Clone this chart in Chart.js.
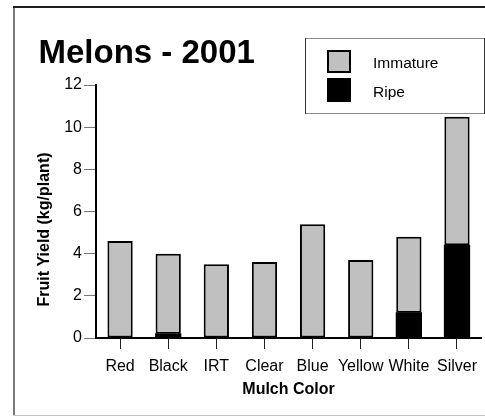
<!DOCTYPE html>
<html><head><meta charset="utf-8">
<script src="https://cdn.jsdelivr.net/npm/chart.js@4.4.1/dist/chart.umd.min.js"></script>
<style>html,body{margin:0;padding:0;background:#fff}#wrap{position:relative;width:485px;height:417px}</style>
</head><body><div id="wrap"><canvas id="c" width="485" height="417"></canvas></div>
<script>
const chartTitle = 'Melons - 2001';
const categories = ['Red', 'Black', 'IRT', 'Clear', 'Blue', 'Yellow', 'White', 'Silver'];
const ripe = [0, 0.2, 0, 0, 0, 0, 1.2, 4.4];
const immature = [4.6, 3.8, 3.5, 3.6, 5.4, 3.7, 3.6, 6.1];
const yTicks = [0, 2, 4, 6, 8, 10, 12];
const seriesNames = ['Ripe', 'Immature'];
const xTitle = 'Mulch Color';
const yTitle = 'Fruit Yield (kg/plant)';

const FONT = '"Liberation Sans", Arial, Helvetica, sans-serif';

const decor = {
  id: 'decor',
  beforeDraw(chart) {
    const ctx = chart.ctx;
    ctx.save();
    ctx.fillStyle = '#fff';
    ctx.fillRect(0, 0, chart.width, chart.height);
    ctx.fillStyle = '#7a7a7a';
    ctx.fillRect(13, 7, 2, 409);
    ctx.fillStyle = '#1e1e1e';
    ctx.fillRect(13, 6, 472, 2);
    ctx.fillStyle = '#c4c4c4';
    ctx.fillRect(13, 415, 472, 1);
    ctx.restore();
  },
  afterDraw(chart) {
    const ctx = chart.ctx;
    ctx.save();
    ctx.fillStyle = '#000';
    ctx.font = 'bold 33px ' + FONT;
    ctx.textAlign = 'left';
    ctx.textBaseline = 'alphabetic';
    ctx.fillText(chartTitle, 38.5, 63);

    ctx.save();
    ctx.translate(45, 229.5);
    ctx.rotate(-Math.PI / 2);
    ctx.font = 'bold 16px ' + FONT;
    ctx.textAlign = 'center';
    ctx.textBaseline = 'middle';
    ctx.fillText(yTitle, 0, 0);
    ctx.restore();

    // legend box
    ctx.fillStyle = '#fff';
    ctx.fillRect(305, 39, 180, 74);
    ctx.fillStyle = '#8a8a8a';
    ctx.fillRect(305, 38, 180, 1);
    ctx.fillRect(305, 113, 180, 1);
    ctx.fillStyle = '#333';
    ctx.fillRect(305, 38, 1, 76);
    ctx.fillRect(484, 38, 1, 76);

    const items = chart.data.datasets.slice().reverse();
    items.forEach((ds, i) => {
      const sx = 327, sy = 50 + i * 28, sw = 24, sh = 23 + i;
      ctx.fillStyle = '#000';
      ctx.fillRect(sx, sy, sw, sh);
      ctx.fillStyle = ds.backgroundColor;
      ctx.fillRect(sx + 2, sy + 2, sw - 4, sh - 4);
      ctx.fillStyle = '#000';
      ctx.font = '15.5px ' + FONT;
      ctx.textAlign = 'left';
      ctx.textBaseline = 'alphabetic';
      ctx.fillText(ds.label, 373, 67.5 + i * 29.5);
    });
    ctx.restore();
  }
};

new Chart(document.getElementById('c'), {
  type: 'bar',
  data: {
    labels: categories,
    datasets: [
      { label: seriesNames[0], data: ripe, backgroundColor: '#000', borderColor: '#000', borderWidth: 0, borderSkipped: false, inflateAmount: 0.5 },
      { label: seriesNames[1], data: immature, backgroundColor: '#c0c0c0', borderColor: '#000', borderWidth: 2, borderSkipped: false, inflateAmount: 0 }
    ]
  },
  options: {
    responsive: false,
    animation: false,
    devicePixelRatio: 1,
    layout: { padding: { top: 85, left: 0, right: 0, bottom: 0 } },
    plugins: { legend: { display: false }, title: { display: false }, tooltip: { enabled: false } },
    datasets: { bar: { categoryPercentage: 1, barPercentage: 0.525 } },
    scales: {
      x: {
        stacked: true,
        offset: true,
        grid: { display: true, drawOnChartArea: false, drawTicks: true, tickLength: 11, color: '#222', lineWidth: 1, offset: false },
        border: { display: true, color: '#000', width: 2 },
        ticks: { font: { family: FONT, size: 16 }, color: '#000', padding: 8, maxRotation: 0, autoSkip: false },
        title: { display: true, text: xTitle, font: { family: FONT, size: 16, weight: 'bold' }, color: '#000', padding: { top: 0, bottom: 18 } },
        afterFit(s) { s.height = 79; }
      },
      y: {
        stacked: true,
        min: 0,
        max: 12,
        grid: { drawOnChartArea: false, drawTicks: true, tickLength: 12, color: '#777', lineWidth: 1 },
        border: { display: true, color: '#000', width: 2 },
        ticks: { font: { family: FONT, size: 16 }, color: '#000', padding: 2 },
        afterBuildTicks(s) { s.ticks = yTicks.map(v => ({ value: v })); },
        afterFit(s) { s.width = 96; }
      }
    }
  },
  plugins: [decor]
});
</script>
</body></html>
